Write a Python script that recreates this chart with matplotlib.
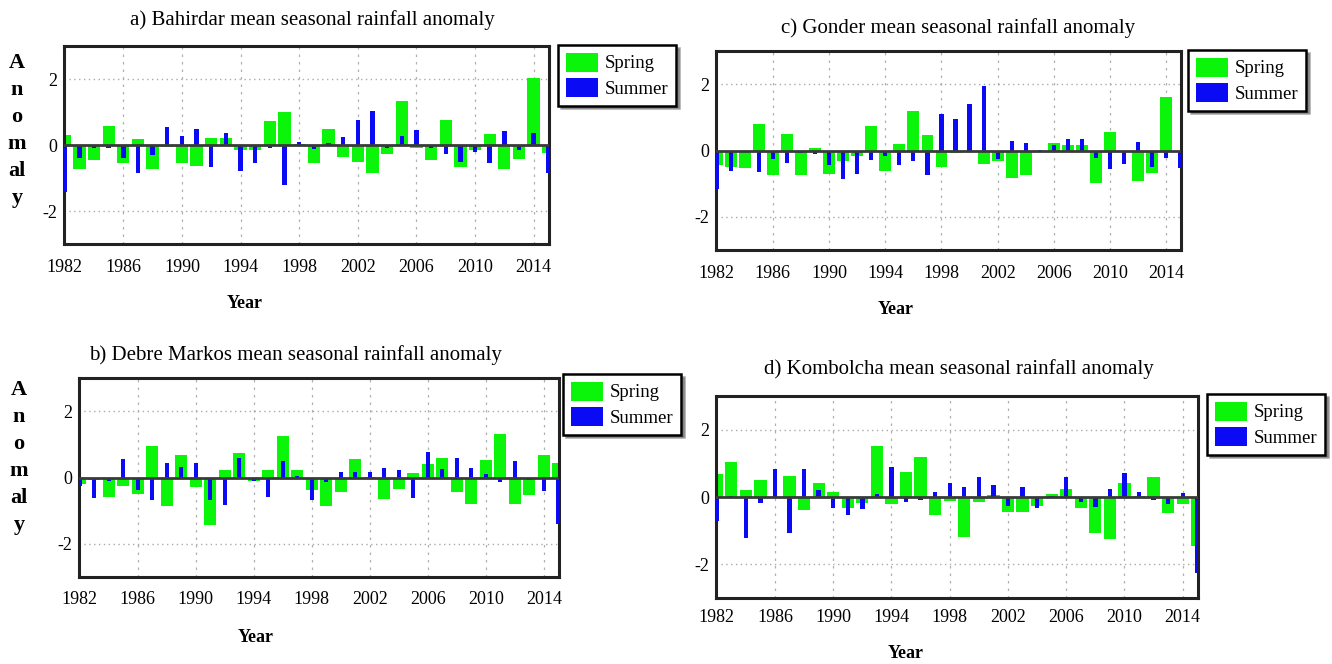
import matplotlib
matplotlib.use("Agg")
import matplotlib.pyplot as plt
import numpy as np
from matplotlib.patches import Patch

plt.rcParams['font.family'] = ['Liberation Serif', 'DejaVu Serif']

years = np.arange(1982, 2016)
xtick_years = [1982, 1986, 1990, 1994, 1998, 2002, 2006, 2010, 2014]
ytick_vals = [-2, 0, 2]

titles = ["a) Bahirdar mean seasonal rainfall anomaly",
          "b) Debre Markos mean seasonal rainfall anomaly",
          "c) Gonder mean seasonal rainfall anomaly",
          "d) Kombolcha mean seasonal rainfall anomaly"]

bahirdar_spring = [0.30, -0.73, -0.46, 0.59, -0.55, 0.19, -0.73, -0.05, -0.55, -0.63,
                   0.22, 0.22, -0.16, -0.16, 0.74, 1.00, 0.02, -0.55, 0.49, -0.35,
                   -0.53, -0.86, -0.28, 1.33, -0.08, -0.46, 0.76, -0.68, -0.15, 0.34,
                   -0.73, -0.41, 2.03, -0.23]
bahirdar_summer = [-1.43, -0.38, -0.10, -0.08, -0.38, -0.86, -0.30, 0.54, 0.27, 0.50,
                   -0.68, 0.37, -0.80, -0.54, -0.10, -1.20, 0.10, -0.13, 0.07, 0.24,
                   0.75, 1.02, -0.10, 0.27, 0.44, -0.08, -0.28, -0.53, -0.20, -0.55,
                   0.42, -0.16, 0.35, -0.86]

debre_spring = [-0.20, -0.07, -0.59, -0.27, -0.50, 0.96, -0.87, 0.68, -0.30, -1.44,
                0.22, 0.74, -0.10, 0.22, 1.26, 0.22, -0.37, -0.86, -0.45, 0.56,
                0.02, -0.64, -0.35, 0.15, 0.42, 0.59, -0.43, -0.81, 0.54, 1.32,
                -0.79, -0.54, 0.69, 0.43]
debre_summer = [-0.27, -0.61, -0.10, 0.56, -0.38, -0.69, 0.43, 0.33, 0.43, -0.69,
                -0.82, 0.59, -0.10, -0.59, 0.50, 0.05, -0.69, -0.15, 0.17, 0.17,
                0.17, 0.28, 0.22, -0.62, 0.77, 0.27, 0.59, 0.30, 0.10, -0.15,
                0.50, -0.07, -0.40, -1.39]

gonder_spring = [-0.43, -0.50, -0.53, 0.79, -0.75, 0.51, -0.75, 0.09, -0.72, -0.31,
                 -0.16, 0.74, -0.62, 0.20, 1.18, 0.47, -0.50, -0.07, -0.02, -0.42,
                 -0.32, -0.84, -0.74, -0.02, 0.23, 0.16, 0.16, -0.99, 0.56, -0.02,
                 -0.92, -0.69, 1.60, -0.05]
gonder_summer = [-1.15, -0.62, -0.06, -0.64, -0.25, -0.38, -0.08, -0.11, -0.43, -0.87,
                 -0.70, -0.28, -0.18, -0.43, -0.33, -0.74, 1.11, 0.95, 1.40, 1.94,
                 -0.27, 0.30, 0.23, 0.02, 0.16, 0.36, 0.36, -0.24, -0.55, -0.40,
                 0.25, -0.49, -0.22, -0.54]

kombolcha_spring = [0.68, 1.04, 0.21, 0.50, -0.04, 0.63, -0.40, 0.43, 0.15, -0.32,
                    -0.17, 1.52, -0.20, 0.74, 1.20, -0.54, -0.12, -1.19, -0.15, 0.05,
                    -0.44, -0.44, -0.27, 0.08, 0.23, -0.34, -1.06, -1.26, 0.43, 0.02,
                    0.60, -0.47, -0.20, -1.46]
kombolcha_summer = [-0.70, 0.02, -1.21, -0.17, 0.82, -1.06, 0.82, 0.20, -0.34, -0.54,
                    -0.37, 0.08, 0.89, -0.15, -0.10, 0.15, 0.41, 0.31, 0.60, 0.35,
                    -0.27, 0.30, -0.34, 0.02, 0.58, -0.15, -0.30, 0.25, 0.70, 0.15,
                    -0.10, -0.20, 0.13, -2.25]

series_names = ["Spring", "Summer"]
spring_color = "#0af50a"
summer_color = "#0a0af5"

W, H = 1332, 664
fig = plt.figure(figsize=(W / 100, H / 100), dpi=100)
fig.patch.set_facecolor("white")

def fx(px):
    return px / W

def fy(py):
    return 1 - py / H

panels = [
    dict(box=(64, 46, 549, 244), title=(312, 20), leg=(558, 45), year=(245, 303),
         ylab=(17, 63), pad=11, data=(bahirdar_spring, bahirdar_summer), title_i=0),
    dict(box=(79, 378, 559, 577), title=(295, 355), leg=(563, 374), year=(256, 638),
         ylab=(19, 390), pad=10, data=(debre_spring, debre_summer), title_i=1),
    dict(box=(716, 51, 1181, 250), title=(958, 28), leg=(1188, 50), year=(896, 309),
         ylab=None, pad=11, data=(gonder_spring, gonder_summer), title_i=2),
    dict(box=(716, 396, 1198, 598), title=(959, 369), leg=(1207, 394), year=(906, 653),
         ylab=None, pad=8, data=(kombolcha_spring, kombolcha_summer), title_i=3),
]

for p in panels:
    x0, y0, x1, y1 = p["box"]
    ax = fig.add_axes([fx(x0), fy(y1), fx(x1 - x0), (y1 - y0) / H])
    spring, summer = p["data"]
    ax.bar(years, spring, width=0.84, color=spring_color, zorder=2, linewidth=0)
    ax.bar(years, summer, width=0.3, color=summer_color, zorder=3, linewidth=0)
    ax.axhline(0, color="#3a3a3a", lw=2.0, zorder=4)
    ax.set_xlim(1981.95, 2015.05)
    ax.set_ylim(-3, 3)
    ax.set_xticks(xtick_years)
    ax.set_yticks(ytick_vals)
    ax.set_xticklabels([str(v) for v in xtick_years], fontsize=13)
    ax.set_yticklabels([str(v) for v in ytick_vals], fontsize=13)
    ax.tick_params(axis="x", length=0, pad=p["pad"])
    ax.tick_params(axis="y", length=0, pad=5)
    for v in xtick_years[1:]:
        ax.axvline(v, color="#b0b0b0", lw=0.9, ls=(0, (2, 4)), zorder=1)
    for v in (-2, 2):
        ax.axhline(v, color="#aaaaaa", lw=1.0, ls=(0, (1, 2.5)), zorder=1)
    for s in ax.spines.values():
        s.set_linewidth(2.2)
        s.set_color("#222222")
    fig.text(fx(p["title"][0]), fy(p["title"][1]), titles[p["title_i"]],
             ha="center", va="center", fontsize=15)
    fig.text(fx(p["year"][0]), fy(p["year"][1]), "Year", ha="center", va="center",
             fontsize=13, fontweight="bold")
    if p["ylab"] is not None:
        lx, ly = p["ylab"]
        for i, part in enumerate(["A", "n", "o", "m", "al", "y"]):
            fig.text(fx(lx), fy(ly + i * 27), part, ha="center", va="center",
                     fontsize=16, fontweight="bold")
    handles = [Patch(facecolor=spring_color, edgecolor="none"),
               Patch(facecolor=summer_color, edgecolor="none")]
    leg = ax.legend(handles, series_names, loc="upper left",
                    bbox_to_anchor=(fx(p["leg"][0]), fy(p["leg"][1])),
                    bbox_transform=fig.transFigure, fontsize=13.5, fancybox=False,
                    shadow=True, framealpha=1, edgecolor="black",
                    handlelength=1.75, handleheight=1.2, handletextpad=0.35,
                    labelspacing=0.3, borderpad=0.4, borderaxespad=0)
    leg.get_frame().set_linewidth(1.8)

fig.savefig("out.png", dpi=100)
